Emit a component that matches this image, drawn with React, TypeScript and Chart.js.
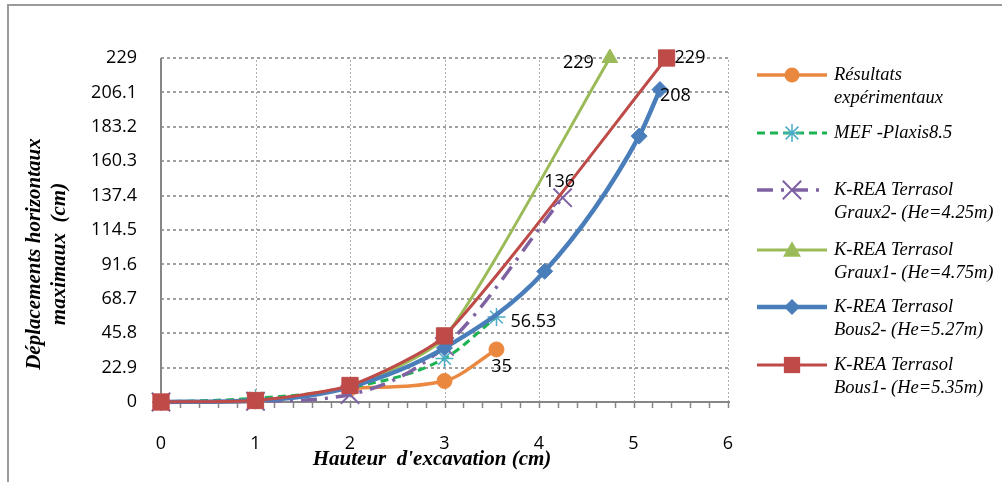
import React, { useEffect, useRef } from "react";
import { Chart, registerables } from "chart.js";

Chart.register(...registerables);

// ---- data ----
const xTickValues = [0, 1, 2, 3, 4, 5, 6];
const yTickValues = [0, 22.9, 45.8, 68.7, 91.6, 114.5, 137.4, 160.3, 183.2, 206.1, 229];
const yTickLabels = ["0", "22.9", "45.8", "68.7", "91.6", "114.5", "137.4", "160.3", "183.2", "206.1", "229"];
const minorTickValues = [0, 0.2, 0.4, 0.6, 0.8, 1, 1.2, 1.4, 1.6, 1.8, 2, 2.2, 2.4, 2.6, 2.8, 3, 3.2, 3.4, 3.6, 3.8, 4, 4.2, 4.4, 4.6, 4.8, 5, 5.2, 5.4, 5.6, 5.8, 6];

const expX = [0, 1, 2, 3, 3.55];
const expY = [0, 0.5, 9, 14, 35];
const mefX = [0, 1, 2, 3, 3.55];
const mefY = [0, 2.5, 9.5, 29, 56.53];
const graux2X = [0, 1, 2, 3, 4.25];
const graux2Y = [0, 0.5, 5, 37, 136];
const graux1X = [0, 1, 2, 3, 4.75];
const graux1Y = [0, 1, 10, 43, 229];
const bous2X = [0, 1, 2, 3, 4.06, 5.06, 5.28];
const bous2Y = [0, 1, 10, 36, 87, 177, 208];
const bous1X = [0, 1, 2, 3, 5.35];
const bous1Y = [0, 1, 11, 44, 229];

const seriesNames = [
  ["Résultats", "expérimentaux"],
  ["MEF -Plaxis8.5"],
  ["K-REA Terrasol", "Graux2- (He=4.25m)"],
  ["K-REA Terrasol", "Graux1- (He=4.75m)"],
  ["K-REA Terrasol", "Bous2- (He=5.27m)"],
  ["K-REA Terrasol", "Bous1- (He=5.35m)"],
];

// data labels: [series index, point index, text]
const dataLabels: [number, number, string][] = [
  [0, 4, "35"],
  [1, 4, "56.53"],
  [2, 4, "136"],
  [3, 4, "229"],
  [4, 6, "208"],
  [5, 4, "229"],
];

const xTitle = "Hauteur  d'excavation (cm)";
const yTitle = ["Déplacements horizontaux", "maximaux  (cm)"];

// ---- styles ----
const SANS = "'Open Sans', 'DejaVu Sans', sans-serif";
const SERIF = "'Liberation Serif', 'DejaVu Serif', serif";
const ORANGE = "#EB8840";
const MEF_LINE = "#1DB352";
const MEF_MARK = "#4BACC6";
const PURPLE = "#7F62A2";
const GREEN = "#9BBB59";
const BLUE = "#4A7EBB";
const RED = "#BE4B48";

const labelOffsets: [number, number, CanvasTextAlign][] = [
  [5, 17, "center"],
  [14, 5, "left"],
  [-3, -16, "center"],
  [-16, 5, "right"],
  [0, 6, "left"],
  [8, 0, "left"],
];
const legendRows = [75, 133, 190, 250, 307, 365];

function pts(xs: number[], ys: number[]) {
  return xs.map((x, i) => ({ x, y: ys[i] }));
}

function drawMarker(ctx: CanvasRenderingContext2D, ds: any, x: number, y: number) {
  const r = ds.pointRadius;
  ctx.save();
  ctx.fillStyle = ds.pointBackgroundColor;
  ctx.strokeStyle = ds.pointBorderColor;
  ctx.lineWidth = ds.pointBorderWidth;
  ctx.setLineDash([]);
  ctx.beginPath();
  switch (ds.pointStyle) {
    case "circle":
      ctx.arc(x, y, r, 0, Math.PI * 2);
      ctx.fill();
      break;
    case "rect": {
      const s = Math.SQRT1_2 * r;
      ctx.fillRect(x - s, y - s, 2 * s, 2 * s);
      break;
    }
    case "rectRot":
      ctx.moveTo(x - r, y);
      ctx.lineTo(x, y - r);
      ctx.lineTo(x + r, y);
      ctx.lineTo(x, y + r);
      ctx.closePath();
      ctx.fill();
      break;
    case "triangle": {
      const h = r * 1.5;
      ctx.moveTo(x - r * 0.866 * 1.15, y + h / 2);
      ctx.lineTo(x, y - h / 2 - 2);
      ctx.lineTo(x + r * 0.866 * 1.15, y + h / 2);
      ctx.closePath();
      ctx.fill();
      break;
    }
    case "crossRot": {
      const o = Math.SQRT1_2 * r;
      ctx.moveTo(x - o, y - o);
      ctx.lineTo(x + o, y + o);
      ctx.moveTo(x - o, y + o);
      ctx.lineTo(x + o, y - o);
      ctx.stroke();
      break;
    }
    case "star": {
      const o = Math.SQRT1_2 * r;
      ctx.moveTo(x, y - r);
      ctx.lineTo(x, y + r);
      ctx.moveTo(x - r, y);
      ctx.lineTo(x + r, y);
      ctx.moveTo(x - o, y - o);
      ctx.lineTo(x + o, y + o);
      ctx.moveTo(x - o, y + o);
      ctx.lineTo(x + o, y - o);
      ctx.stroke();
      break;
    }
  }
  ctx.restore();
}

const customPlugin = {
  id: "custom",
  beforeDatasetsDraw(chart: any) {
    const { ctx, chartArea, scales } = chart;
    const xs = scales.x;
    const ys = scales.y;
    ctx.save();
    // horizontal grid (dotted)
    ctx.strokeStyle = "#A0A0A0";
    ctx.lineWidth = 2;
    ctx.setLineDash([3, 3]);
    ctx.beginPath();
    yTickValues.slice(1).forEach((v) => {
      const py = Math.round(ys.getPixelForValue(v));
      ctx.moveTo(chartArea.left, py);
      ctx.lineTo(chartArea.right + 2, py);
    });
    ctx.stroke();
    // vertical grid (fine dotted)
    ctx.strokeStyle = "#AFAFAF";
    ctx.lineWidth = 1;
    ctx.setLineDash([2, 2]);
    ctx.beginPath();
    xTickValues.slice(1).forEach((v) => {
      const px = Math.round(xs.getPixelForValue(v)) + 0.5;
      ctx.moveTo(px, chartArea.bottom);
      ctx.lineTo(px, chartArea.top);
    });
    ctx.stroke();
    // axis lines
    ctx.setLineDash([]);
    ctx.strokeStyle = "#868686";
    ctx.lineWidth = 2;
    ctx.beginPath();
    ctx.moveTo(chartArea.left, chartArea.top);
    ctx.lineTo(chartArea.left, chartArea.bottom);
    ctx.lineTo(chartArea.right + 2, chartArea.bottom);
    ctx.stroke();
    // minor ticks
    ctx.lineWidth = 1.5;
    ctx.beginPath();
    minorTickValues.forEach((v) => {
      const px = Math.round(xs.getPixelForValue(v)) + 0.5;
      ctx.moveTo(px, chartArea.bottom);
      ctx.lineTo(px, chartArea.bottom + 6);
    });
    ctx.stroke();
    ctx.restore();
  },
  afterDraw(chart: any) {
    const { ctx } = chart;
    ctx.save();
    // frame
    ctx.strokeStyle = "#9A9A9A";
    ctx.lineWidth = 2;
    ctx.beginPath();
    ctx.moveTo(8, 482);
    ctx.lineTo(8, 5);
    ctx.lineTo(1002, 5);
    ctx.stroke();

    // data labels
    ctx.fillStyle = "#000";
    ctx.font = `18px ${SANS}`;
    ctx.textBaseline = "middle";
    dataLabels.forEach(([si, pi, text], k) => {
      const el = chart.getDatasetMeta(si).data[pi];
      const [dx, dy, align] = labelOffsets[k];
      ctx.textAlign = align;
      ctx.fillText(text, el.x + dx, el.y + dy);
    });

    // axis titles
    ctx.font = `italic bold 21px ${SERIF}`;
    ctx.textAlign = "center";
    ctx.fillText(xTitle, 432, 460);
    ctx.save();
    ctx.translate(35, 254);
    ctx.rotate(-Math.PI / 2);
    ctx.fillText(yTitle[0], 0, 0);
    ctx.fillText(yTitle[1], 0, 25);
    ctx.restore();

    // legend
    chart.data.datasets.forEach((ds: any, i: number) => {
      const y = legendRows[i];
      ctx.save();
      ctx.strokeStyle = ds.borderColor;
      ctx.lineWidth = ds.borderWidth;
      ctx.setLineDash(ds.borderDash || []);
      ctx.beginPath();
      ctx.moveTo(757, y);
      ctx.lineTo(827, y);
      ctx.stroke();
      ctx.restore();
      drawMarker(ctx, ds, 792, y);
      ctx.fillStyle = "#000";
      ctx.font = `italic 18.5px ${SERIF}`;
      ctx.textAlign = "left";
      ctx.textBaseline = "middle";
      seriesNames[i].forEach((line, j) => ctx.fillText(line, 834, y + j * 23));
    });
    ctx.restore();
  },
};

export default function App() {
  const ref = useRef<HTMLCanvasElement>(null);
  useEffect(() => {
    if (!ref.current) return;
    const common = { showLine: true, tension: 0.4, cubicInterpolationMode: "monotone", pointHoverRadius: 0, clip: false };
    const straighter = { showLine: true, tension: 0.2, cubicInterpolationMode: "default", pointHoverRadius: 0, clip: false };
    const chart = new Chart(ref.current, {
      type: "scatter",
      data: {
        datasets: [
          { ...common, order: 5, label: seriesNames[0].join(" "), data: pts(expX, expY), borderColor: ORANGE, borderWidth: 3.5, pointStyle: "circle", pointRadius: 7.5, pointBackgroundColor: ORANGE, pointBorderColor: ORANGE, pointBorderWidth: 1 },
          { ...common, order: 4, label: seriesNames[1].join(" "), data: pts(mefX, mefY), borderColor: MEF_LINE, borderWidth: 3, borderDash: [8, 5], pointStyle: "star", pointRadius: 9, pointBackgroundColor: MEF_MARK, pointBorderColor: MEF_MARK, pointBorderWidth: 1.5 },
          { ...common, order: 3, label: seriesNames[2].join(" "), data: pts(graux2X, graux2Y), borderColor: PURPLE, borderWidth: 3.5, borderDash: [16, 8, 3, 8], pointStyle: "crossRot", pointRadius: 13, pointBackgroundColor: PURPLE, pointBorderColor: PURPLE, pointBorderWidth: 2 },
          { ...straighter, order: 2, label: seriesNames[3].join(" "), data: pts(graux1X, graux1Y), borderColor: GREEN, borderWidth: 3, pointStyle: "triangle", pointRadius: 9, pointBackgroundColor: GREEN, pointBorderColor: GREEN, pointBorderWidth: 1 },
          { ...common, order: 1, label: seriesNames[4].join(" "), data: pts(bous2X, bous2Y), borderColor: BLUE, borderWidth: 4.5, pointStyle: "rectRot", pointRadius: 8, pointBackgroundColor: BLUE, pointBorderColor: BLUE, pointBorderWidth: 1 },
          { ...straighter, order: 0, label: seriesNames[5].join(" "), data: pts(bous1X, bous1Y), borderColor: RED, borderWidth: 3, pointStyle: "rect", pointRadius: 11.5, pointBackgroundColor: RED, pointBorderColor: RED, pointBorderWidth: 1 },
        ] as any,
      },
      options: {
        animation: false,
        responsive: false,
        events: [],
        layout: { padding: { left: 0, top: 58, right: 274, bottom: 0 } },
        plugins: { legend: { display: false }, tooltip: { enabled: false } },
        scales: {
          x: {
            type: "linear",
            min: 0,
            max: 6,
            afterBuildTicks: (s: any) => { s.ticks = xTickValues.map((v) => ({ value: v })); },
            afterFit: (s: any) => { s.height = 80; },
            ticks: { padding: 31, font: { family: SANS, size: 18 }, color: "#000", callback: (v: any) => String(v) },
            grid: { display: false, drawTicks: false },
            border: { display: false },
          },
          y: {
            type: "linear",
            min: 0,
            max: 229,
            afterBuildTicks: (s: any) => { s.ticks = yTickValues.map((v) => ({ value: v })); },
            afterFit: (s: any) => { s.width = 161; },
            ticks: { padding: 24, font: { family: SANS, size: 18 }, color: "#000", callback: (_v: any, i: number) => yTickLabels[i] },
            grid: { display: false, drawTicks: false },
            border: { display: false },
          },
        },
      },
      plugins: [customPlugin],
    });
    return () => chart.destroy();
  }, []);
  return (
    <div style={{ position: "absolute", left: 0, top: 0, width: 1002, height: 482, background: "#fff" }}>
      <canvas ref={ref} width={1002} height={482} style={{ display: "block", width: 1002, height: 482 }} />
    </div>
  );
}
